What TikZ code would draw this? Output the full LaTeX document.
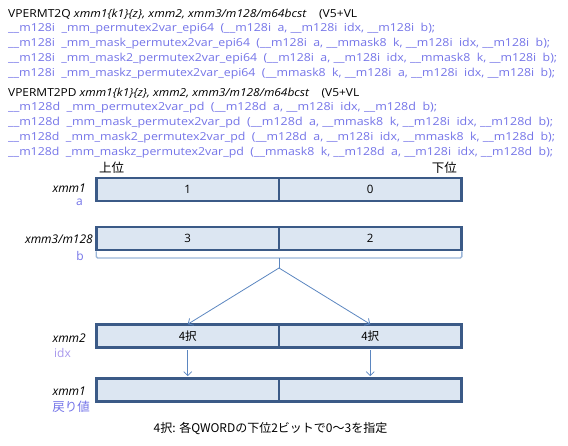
\documentclass[tikz,border=0pt]{standalone}
\usepackage{fontspec}
\usepackage{graphicx}
\setmainfont{Open Sans}
\newfontfamily\jp{Noto Sans CJK JP}
\usetikzlibrary{arrows.meta}
\definecolor{boxfill}{HTML}{DCE6F2}
\definecolor{boxdraw}{HTML}{3B5A87}
\definecolor{codec}{HTML}{7474E8}
\definecolor{idxc}{HTML}{A898EC}
\definecolor{arr}{HTML}{5B86C0}
\definecolor{bracec}{HTML}{9AB5D8}
\newcommand\fitw[2]{\resizebox{#1pt}{\height}{#2}}
\begin{document}
\begin{tikzpicture}[x=1pt,y=-1pt,
  half/.style={draw=boxdraw, fill=boxfill, line width=2.6pt, minimum width=182.5pt, minimum height=23pt, inner sep=0pt, font=\fontsize{11.5}{13}\selectfont},
  codeline/.style={anchor=west, inner sep=0pt, text=codec, font=\fontsize{11}{12}\selectfont},
  headline/.style={anchor=west, inner sep=0pt, text=black, font=\fontsize{11}{12}\selectfont},
  reglabel/.style={anchor=east, inner sep=0pt, font=\fontsize{12}{13}\selectfont\itshape},
  arglabel/.style={anchor=east, inner sep=0pt, text=codec, font=\fontsize{12}{13}\selectfont},
  arrowline/.style={draw=arr, line width=0.8pt, -{Straight Barb[length=4pt,width=8pt]}}]
\useasboundingbox (0,0) rectangle (568,445);
% header text
\node[headline] (h1) at (8,14) {\fitw{349}{VPERMT2Q \textit{xmm1\{k1\}\{z\}, xmm2, xmm3/m128/m64bcst}\ \ \ \ (V5+VL}};
\node[codeline] (c11) at (8,29) {\fitw{427}{\_\_m128i\ \ \_mm\_permutex2var\_epi64\ \ (\_\_m128i\ \ a, \_\_m128i\ \ idx, \_\_m128i\ \ b);}};
\node[codeline] (c12) at (8,44) {\fitw{542}{\_\_m128i\ \ \_mm\_mask\_permutex2var\_epi64\ \ (\_\_m128i\ \ a, \_\_mmask8\ \ k, \_\_m128i\ \ idx, \_\_m128i\ \ b);}};
\node[codeline] (c13) at (8,59) {\fitw{549}{\_\_m128i\ \ \_mm\_mask2\_permutex2var\_epi64\ \ (\_\_m128i\ \ a, \_\_m128i\ \ idx, \_\_mmask8\ \ k, \_\_m128i\ \ b);}};
\node[codeline] (c14) at (8,74) {\fitw{547}{\_\_m128i\ \ \_mm\_maskz\_permutex2var\_epi64\ \ (\_\_mmask8\ \ k, \_\_m128i\ \ a, \_\_m128i\ \ idx, \_\_m128i\ \ b);}};
\node[headline] (h2) at (8,93) {\fitw{351}{VPERMT2PD \textit{xmm1\{k1\}\{z\}, xmm2, xmm3/m128/m64bcst}\ \ \ \ (V5+VL}};
\node[codeline] (c21) at (8,108) {\fitw{429}{\_\_m128d\ \ \_mm\_permutex2var\_pd\ \ (\_\_m128d\ \ a, \_\_m128i\ \ idx, \_\_m128d\ \ b);}};
\node[codeline] (c22) at (8,123) {\fitw{545}{\_\_m128d\ \ \_mm\_mask\_permutex2var\_pd\ \ (\_\_m128d\ \ a, \_\_mmask8\ \ k, \_\_m128i\ \ idx, \_\_m128d\ \ b);}};
\node[codeline] (c23) at (8,138) {\fitw{547}{\_\_m128d\ \ \_mm\_mask2\_permutex2var\_pd\ \ (\_\_m128d\ \ a, \_\_m128i\ \ idx, \_\_mmask8\ \ k, \_\_m128d\ \ b);}};
\node[codeline] (c24) at (8,153) {\fitw{545}{\_\_m128d\ \ \_mm\_maskz\_permutex2var\_pd\ \ (\_\_mmask8\ \ k, \_\_m128d\ \ a, \_\_m128i\ \ idx, \_\_m128d\ \ b);}};
% registers
\node[half] (aL) at (187.75,189.5) {1};
\node[half] (aR) at (370.25,189.5) {0};
\node[half] (bL) at (187.75,238.5) {3};
\node[half] (bR) at (370.25,238.5) {2};
\node[half] (iL) at (187.75,336) {\jp 4択};
\node[half] (iR) at (370.25,336) {\jp 4択};
\node[half] (rL) at (187.75,390) {};
\node[half] (rR) at (370.25,390) {};
% top labels
\node[anchor=west, inner sep=0pt, font=\jp\fontsize{12.5}{13}\selectfont] (hi) at (99,168) {上位};
\node[anchor=east, inner sep=0pt, font=\jp\fontsize{12.5}{13}\selectfont] (lo) at (457,168) {下位};
% side labels
\node[reglabel] (la1) at (86,188) {xmm1};
\node[arglabel] (la2) at (83,202) {a};
\node[reglabel] (lb1) at (93,239) {xmm3/m128};
\node[arglabel] (lb2) at (84,256) {b};
\node[reglabel] (li1) at (86,338) {xmm2};
\node[arglabel, text=idxc] (li2) at (71,353) {idx};
\node[reglabel] (lr1) at (86,391) {xmm1};
\node[arglabel, font=\jp\fontsize{12.5}{13}\selectfont] (lr2) at (90,407) {戻り値};
% brace
\coordinate (bs) at (279,258);
\coordinate (apex) at (279,268);
\draw[draw=bracec, line width=1.4pt, rounded corners=1.5pt] ([xshift=1pt]bL.south west) |- (bs) -| ([xshift=-1pt]bR.south east);
\draw[draw=arr, line width=0.8pt] (bs) -- (apex);
\draw[arrowline] (apex) -- ([yshift=-1pt]iL.north);
\draw[arrowline] (apex) -- ([yshift=-1pt]iR.north);
\draw[arrowline] ([yshift=-1.3pt]iL.south) -- ([yshift=1pt]rL.north);
\draw[arrowline] ([yshift=-1.3pt]iR.south) -- ([yshift=1pt]rR.north);
% footer
\node[inner sep=0pt, font=\jp\fontsize{12}{13}\selectfont] (foot) at (270.5,429) {4択: 各QWORDの下位2ビットで0～3を指定};
\end{tikzpicture}
\end{document}
